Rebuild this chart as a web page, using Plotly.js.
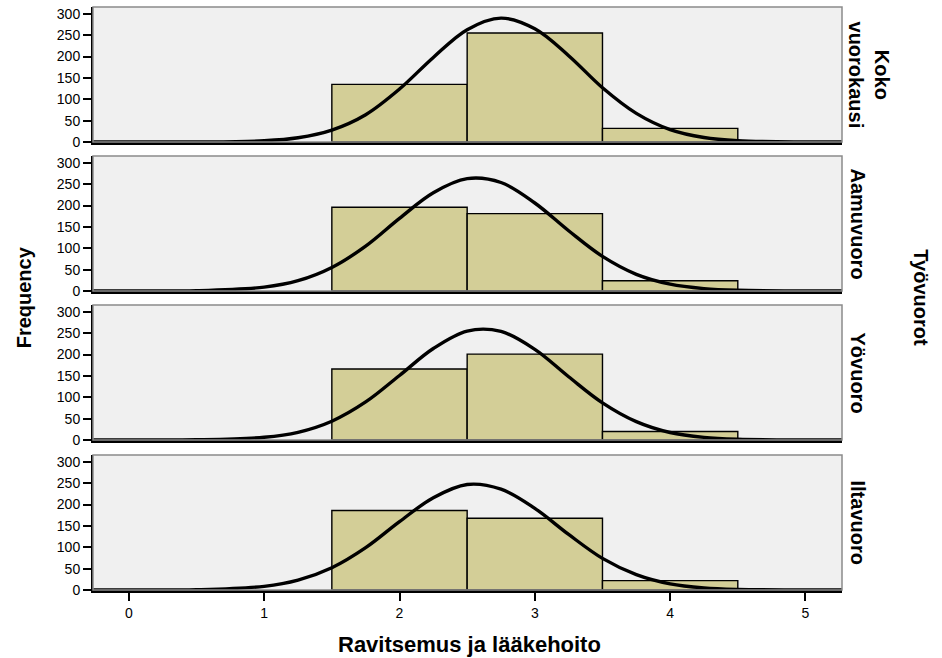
<!DOCTYPE html>
<html>
<head>
<meta charset="utf-8">
<script src="https://cdn.plot.ly/plotly-3.0.1.min.js"></script>
<style>html,body{margin:0;padding:0;background:#fff;}#chart{width:942px;height:658px;}</style>
</head>
<body>
<div id="chart"></div>
<script>
// Data
const panels = ["Koko<br>vuorokausi", "Aamuvuoro", "Yövuoro", "Iltavuoro"];
const binCenters = [2, 3, 4];
const countsKoko = [135, 255, 32];
const countsAamu = [196, 181, 24];
const countsYo = [166, 201, 20];
const countsIlta = [186, 168, 22];

// Normal curve heights read along the x axis
const curveX = [-0.27, 0, 0.5, 1, 1.25, 1.5, 1.75, 2, 2.25, 2.5, 2.75, 3, 3.25, 3.5, 3.75, 4, 4.25, 4.5, 5, 5.27];
const curveKoko = [0, 0, 0.15, 3, 10, 28, 64, 124, 198, 263, 290, 265, 202, 127, 67, 29, 10.5, 3.2, 0.2, 0];
const curveAamu = [0, 0, 0.7, 9, 24, 55, 105, 170, 230, 263, 254, 206, 141, 81, 39, 16, 5.6, 1.6, 0.1, 0];
const curveYo = [0, 0, 0.4, 6.3, 18, 44, 89, 151, 214, 255, 254, 212, 148, 87, 43, 17.5, 6, 1.7, 0.05, 0];
const curveIlta = [0, 0, 0.7, 8.5, 23, 52, 99, 160, 216, 247, 236, 191, 130, 74, 36, 14.4, 4.9, 1.4, 0.07, 0];

const xTicks = [0, 1, 2, 3, 4, 5];
const yTicks = [0, 50, 100, 150, 200, 250, 300];

const allCounts = [countsKoko, countsAamu, countsYo, countsIlta];
const allCurves = [curveKoko, curveAamu, curveYo, curveIlta];

const domains = [[0.7684, 1.0], [0.5129, 0.7444], [0.2573, 0.4889], [0.0, 0.2316]];
const labelShift = [27, 16, 16, 16];
const FONT = "Liberation Sans, Arial, sans-serif";

const traces = [];
const layout = {
  width: 942, height: 658,
  margin: {l: 93, r: 100, t: 7, b: 68},
  paper_bgcolor: "#ffffff",
  plot_bgcolor: "#f0f0f0",
  showlegend: false,
  font: {family: FONT, color: "#000", size: 14},
  shapes: [], annotations: []
};

for (let i = 0; i < 4; i++) {
  const xa = i === 0 ? "x" : "x" + (i + 1);
  const ya = i === 0 ? "y" : "y" + (i + 1);
  traces.push({
    type: "bar", x: binCenters, y: allCounts[i], width: 1,
    xaxis: xa, yaxis: ya,
    marker: {color: "#d3ce97", line: {color: "#000", width: 1.4}},
    hoverinfo: "skip"
  });
  traces.push({
    type: "scatter", mode: "lines", x: curveX, y: allCurves[i],
    xaxis: xa, yaxis: ya,
    line: {color: "#000", width: 3.4, shape: "spline", smoothing: 1},
    cliponaxis: true, hoverinfo: "skip"
  });
  const xk = i === 0 ? "xaxis" : "xaxis" + (i + 1);
  const yk = i === 0 ? "yaxis" : "yaxis" + (i + 1);
  const last = i === 3;
  layout[xk] = {
    domain: [0, 1], anchor: ya, range: [-0.265, 5.27],
    showgrid: false, zeroline: false,
    showline: true, linecolor: "#000", linewidth: 3,
    tickvals: xTicks, ticktext: xTicks.map(String),
    ticks: last ? "outside" : "", ticklen: 8, tickwidth: 2, tickcolor: "#000",
    showticklabels: last,
    tickfont: {family: FONT, size: 14, color: "#000"},
    fixedrange: true
  };
  if (i > 0) layout[xk].matches = "x";
  layout[yk] = {
    domain: domains[i], anchor: xa, range: [0, 316],
    showgrid: false, zeroline: false,
    showline: true, linecolor: "#000", linewidth: 2,
    tickvals: yTicks, ticktext: yTicks.map(String),
    ticks: "outside", ticklen: 8, tickwidth: 2, tickcolor: "#000",
    tickfont: {family: FONT, size: 14, color: "#000"},
    fixedrange: true
  };
  // gray frame of panel
  layout.shapes.push({
    type: "rect", xref: xa + " domain", yref: ya + " domain",
    x0: 0, x1: 1, y0: 0, y1: 1,
    line: {color: "#8a8a8a", width: 1.5}, fillcolor: "rgba(0,0,0,0)", layer: "above"
  });
  // facet label
  layout.annotations.push({
    text: "<b>" + panels[i] + "</b>", textangle: 90,
    xref: "paper", yref: "paper",
    x: 1.0, xanchor: "center", xshift: labelShift[i],
    y: (domains[i][0] + domains[i][1]) / 2, yanchor: "middle",
    showarrow: false, font: {family: FONT, size: 20, color: "#000"}
  });
}

layout.annotations.push({
  text: "<b>Työvuorot</b>", textangle: 90,
  xref: "paper", yref: "paper", x: 1.0, xanchor: "center", xshift: 79,
  y: 0.502, yanchor: "middle", showarrow: false,
  font: {family: FONT, size: 20, color: "#000"}
});
layout.annotations.push({
  text: "<b>Frequency</b>", textangle: -90,
  xref: "paper", yref: "paper", x: 0, xanchor: "center", xshift: -69,
  y: 0.502, yanchor: "middle", showarrow: false,
  font: {family: FONT, size: 20, color: "#000"}
});
layout.annotations.push({
  text: "<b>Ravitsemus ja lääkehoito</b>",
  xref: "paper", yref: "paper", x: 0.503, xanchor: "center",
  y: -0.0943, yanchor: "middle", showarrow: false,
  font: {family: FONT, size: 22, color: "#000"}
});

Plotly.newPlot("chart", traces, layout, {staticPlot: true, displayModeBar: false});
</script>
</body>
</html>
